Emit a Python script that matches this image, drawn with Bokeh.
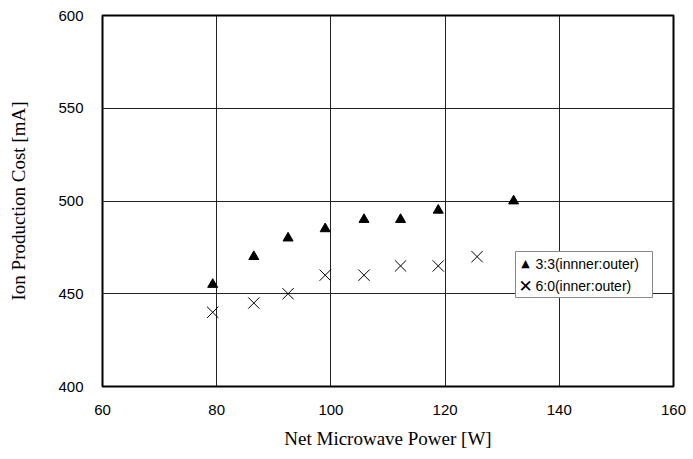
from bokeh.plotting import figure
from bokeh.models import FixedTicker, Range1d, Label, BoxAnnotation
from bokeh.embed import file_html
from bokeh.resources import INLINE

power_33 = [79.3, 86.5, 92.5, 99.0, 105.8, 112.2, 118.8, 132.0]
cost_33 = [455, 470, 480, 485, 490, 490, 495, 500]
power_60 = [79.3, 86.5, 92.5, 99.0, 105.8, 112.2, 118.8, 125.6]
cost_60 = [440, 445, 450, 460, 460, 465, 465, 470]
x_ticks = [60, 80, 100, 120, 140, 160]
y_ticks = [400, 450, 500, 550, 600]
series_labels = ["3:3(innner:outer)", "6:0(inner:outer)"]

p = figure(width=693, height=459, output_backend="svg", toolbar_location=None,
           x_range=Range1d(60, 160), y_range=Range1d(400, 600),
           min_border_left=102, min_border_right=20, min_border_top=15, min_border_bottom=73)
p.background_fill_color = "white"
p.border_fill_color = "white"
p.outline_line_color = "black"
p.outline_line_width = 2

for ax in (p.xaxis[0], p.yaxis[0]):
    ax.axis_line_color = None
    ax.major_tick_line_color = None
    ax.minor_tick_line_color = None
    ax.major_label_text_font = "Liberation Sans Narrow, Liberation Sans, Arial"
    ax.major_label_text_font_size = "15px"
    ax.major_label_text_color = "black"
    ax.axis_label_text_font = "Liberation Serif"
    ax.axis_label_text_font_style = "normal"
    ax.axis_label_text_font_size = "19px"
    ax.axis_label_text_color = "black"

p.xaxis.ticker = FixedTicker(ticks=x_ticks)
p.yaxis.ticker = FixedTicker(ticks=y_ticks)
p.xaxis.axis_label = "Net Microwave Power [W]"
p.yaxis.axis_label = "Ion Production Cost [mA]"
p.xaxis.major_label_standoff = 12
p.yaxis.major_label_standoff = 13
p.xaxis.axis_label_standoff = 10
p.yaxis.axis_label_standoff = 26

p.xgrid.ticker = FixedTicker(ticks=x_ticks[1:-1])
p.ygrid.ticker = FixedTicker(ticks=y_ticks[1:-1])
p.grid.grid_line_color = "#222222"
p.grid.grid_line_width = 1

r1 = p.scatter(power_33, cost_33, marker="triangle", size=10, fill_color="black", line_color="black")
r2 = p.scatter(power_60, cost_60, marker="x", size=16, line_color="black", line_width=1)

# legend box (screen units relative to the plot frame)
box = BoxAnnotation(left=413, right=550, bottom=89, top=135,
                    left_units="screen", right_units="screen",
                    bottom_units="screen", top_units="screen",
                    fill_color="white", fill_alpha=1.0,
                    line_color="#888888", line_width=1, line_alpha=1.0, level="overlay")
p.add_layout(box)

sym_font = "DejaVu Sans"
p.add_layout(Label(x=423, y=123, x_units="screen", y_units="screen", text="▲",
                   text_font=sym_font, text_font_size="11px", text_align="center",
                   text_baseline="middle", text_color="black", level="overlay"))
p.add_layout(Label(x=423, y=101, x_units="screen", y_units="screen", text="✕",
                   text_font=sym_font, text_font_size="17px", text_align="center",
                   text_baseline="middle", text_color="black", level="overlay"))
for yy, lab in zip([123, 101], series_labels):
    p.add_layout(Label(x=433, y=yy, x_units="screen", y_units="screen", text=lab,
                       text_font="Liberation Sans Narrow, Liberation Sans, Arial",
                       text_font_size="14px", text_align="left",
                       text_baseline="middle", text_color="black", level="overlay"))

open("out.html", "w").write(file_html(p, INLINE))
